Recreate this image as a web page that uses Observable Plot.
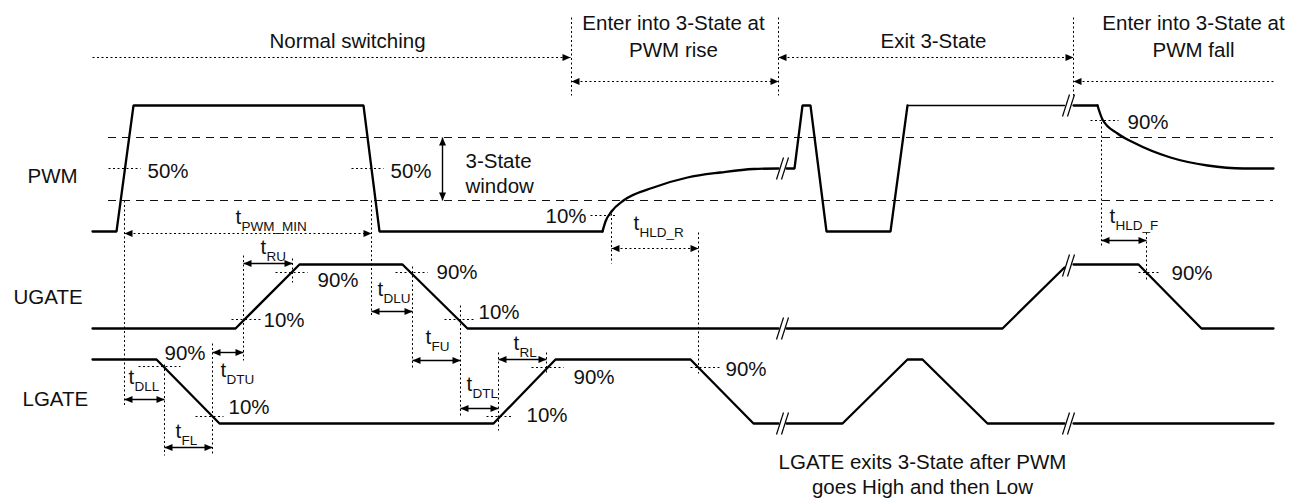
<!DOCTYPE html>
<html><head><meta charset="utf-8">
<script src="https://cdn.jsdelivr.net/npm/d3@7"></script>
<script src="https://cdn.jsdelivr.net/npm/@observablehq/plot@0.6"></script>
<style>body{margin:0;background:#fff}</style>
</head><body><div id="chart"></div>
<script>
// ---- waveform vertices (time, level) ----
const pwmA = [[92,231],[116,231],[133,105],[363,105],[379,231],[602,231]];
const pwmRiseCurve = [[602,231],[605,221],[611,211],[623,200],[653,187],[687,177],[720,172],[753,168.5],[778,168]];
const pwmB = [[786,168],[794,168],[802,105],[810,105],[826,231],[890,231],[907,105]];
const pwmHold = [[907,105],[1064,105]];
const pwmC = [[1073,105],[1097,105]];
const pwmFallCurve = [[1097,105],[1102,119],[1117,133],[1133,142],[1170,157],[1207,165],[1243,168],[1273,168]];
const ugA = [[92,328],[235,328],[299,264],[402,264],[467,328],[778,328]];
const ugB = [[786,328],[1002,328],[1064,267]];
const ugC = [[1073,264],[1138,264],[1201,328],[1273,328]];
const lgA = [[92,359],[156,359],[219,423],[493,423],[555,359],[690,359],[753,423],[778,423]];
const lgB = [[786,423],[842,423],[907,359],[922,359],[987,423],[1064,423]];
const lgC = [[1073,423],[1273,423]];

// 3-state window thresholds
const thresholds = [137, 200];
const thresholdSpan = [108, 1273];

// time-axis breaks
const breaks = [[782,168],[1068,105],[782,328],[1068,265],[782,423],[1068,423]];

// dotted guide lines
const guides = [
  [124,200,124,407],[371,200,371,317],[164,364,164,455],[212,343,212,455],
  [243,255,243,360],[292,258,292,282],[412,266,412,367],[460,305,460,417],
  [498,352,498,430],[546,352,546,372],[611,213,611,263],[698,232,698,373],
  [1101,117,1101,246],[1146,232,1146,280],
  [571,17,571,95],[778,17,778,95],[1073,17,1073,95],
  [108,168,140,168],[351,168,383,168],
  [231,319,261,319],[275,272,307,272],[395,272,427,272],[444,319,473,319],
  [138,366,180,366],[195,416,223,416],[486,416,513,416],[531,367,563,367],[690,367,720,367],
  [590,215,617,215],[1090,120,1118,120],[1138,272,1160,272]
];
// dotted arrows: x1,y1,x2,y2,heads
const dottedArrows = [
  [92,57,570,57,"end"],[778,57,1073,57,"both"],[571,81,778,81,"both"],
  [1073,81,1273,81,"start"],[124,233,371,233,"both"],[611,248,698,248,"both"]
];
// solid timing arrows
const solidArrows = [
  [243,263,292,263,"both"],[371,311,412,311,"both"],[412,360,460,360,"both"],
  [460,408,498,408,"both"],[498,359,546,359,"both"],[124,399,164,399,"both"],
  [164,447,212,447,"both"],[212,352,243,352,"both"],[1101,240,1146,240,"both"],
  [442,137,442,200,"both"]
];

// centred labels
const titles = [
  ["Normal switching",347,47],
  ["Enter into 3-State at",673,29],["PWM rise",673,56],
  ["Exit 3-State",933,47],
  ["Enter into 3-State at",1193,29],["PWM fall",1193,56],
  ["LGATE exits 3-State after PWM",922,468],["goes High and then Low",922,493]
];
// left-aligned labels
const labels = [
  ["PWM",27,182],["UGATE",13,303],["LGATE",22,405],
  ["50%",147,177],["50%",390,177],
  ["3-State",465,167],["window",465,192],
  ["10%",545,222],["90%",1127,128],
  ["90%",317,286],["90%",436,278],["10%",263,326],["10%",478,318],
  ["90%",164,359],["10%",228,413],["10%",526,421],["90%",573,383],["90%",725,375],
  ["90%",1171,279]
];
// timing symbols: subscript, x, baseline of "t"
const timings = [
  ["PWM_MIN",235,223],["RU",260,253],["DLU",377,295],["FU",425,343],
  ["DTL",466,390],["RL",513,349],["HLD_R",633,229],["HLD_F",1109,222],
  ["DLL",128,383],["FL",175,437],["DTU",220,376]
];

// ---- build ----
const P = d => d[0], Q = d => d[1];
const lineOpts = {x: P, y: Q, stroke: "#000", strokeWidth: 2.3, strokeLinejoin: "miter"};

function headSymbol(dx, dy) {
  const L = 8, W = 3.5, px = -dy, py = dx;
  return {draw(ctx) {
    ctx.moveTo(0, 0);
    ctx.lineTo(-dx*L + px*W, -dy*L + py*W);
    ctx.lineTo(-dx*L - px*W, -dy*L - py*W);
    ctx.closePath();
  }};
}
const heads = [];
for (const a of [...dottedArrows, ...solidArrows]) {
  const [x1,y1,x2,y2,h] = a;
  const len = Math.hypot(x2-x1, y2-y1), ux = (x2-x1)/len, uy = (y2-y1)/len;
  if (h === "end" || h === "both") heads.push({x: x2, y: y2, dx: ux, dy: uy});
  if (h === "start" || h === "both") heads.push({x: x1, y: y1, dx: -ux, dy: -uy});
}
const dirKey = h => `${Math.round(h.dx)},${Math.round(h.dy)}`;
const headGroups = d3.group(heads, dirKey);
const headMarks = [...headGroups].map(([k, arr]) => {
  const [dx, dy] = k.split(",").map(Number);
  return Plot.dot(arr, {x: "x", y: "y", r: 4, symbol: headSymbol(dx, dy), fill: "#000", stroke: "none"});
});

const breakLines = [];
for (const [cx, cy] of breaks) for (const d of [-2.5, 2.5])
  breakLines.push([cx + d - 3.5, cy + 11, cx + d + 3.5, cy - 11]);

const seg = {x1: d => d[0], y1: d => d[1], x2: d => d[2], y2: d => d[3]};
const font = "'Liberation Sans', Arial, Helvetica, sans-serif";
const txt = {x: d => d[1], y: d => d[2], text: d => d[0], lineAnchor: "bottom", fontSize: 20.5, fill: "#111"};

const chart = Plot.plot({
  width: 1299, height: 500,
  margin: 0,
  x: {domain: [0, 1299], range: [0, 1299], axis: null},
  y: {domain: [0, 500], range: [0, 500], axis: null},
  style: {fontFamily: font, background: "#fff", color: "#000"},
  marks: [
    Plot.ruleY(thresholds, {y: d => d, x1: thresholdSpan[0], x2: thresholdSpan[1], stroke: "#111", strokeWidth: 1.2, strokeDasharray: "8,6"}),
    Plot.link(guides, {...seg, stroke: "#000", strokeWidth: 1, strokeDasharray: "2,2.5"}),
    Plot.link(dottedArrows, {...seg, stroke: "#000", strokeWidth: 1.1, strokeDasharray: "2,2.5"}),
    Plot.link(solidArrows, {...seg, stroke: "#000", strokeWidth: 1.4}),
    ...headMarks,
    Plot.line(pwmA, lineOpts),
    Plot.line(pwmRiseCurve, {...lineOpts, curve: "monotone-x"}),
    Plot.line(pwmB, lineOpts),
    Plot.line(pwmHold, {...lineOpts, strokeWidth: 1.3}),
    Plot.line(pwmC, lineOpts),
    Plot.line(pwmFallCurve, {...lineOpts, curve: "monotone-x"}),
    Plot.line(ugA, lineOpts), Plot.line(ugB, lineOpts), Plot.line(ugC, lineOpts),
    Plot.line(lgA, lineOpts), Plot.line(lgB, lineOpts), Plot.line(lgC, lineOpts),
    Plot.link(breakLines, {...seg, stroke: "#000", strokeWidth: 1.2}),
    Plot.text(titles, {...txt, textAnchor: "middle"}),
    Plot.text(labels, {...txt, textAnchor: "start"}),
    Plot.text(timings, {x: d => d[1], y: d => d[2], text: () => "t", textAnchor: "start", lineAnchor: "bottom", fontSize: 20.5, fill: "#111"}),
    Plot.text(timings, {x: d => d[1] + 6, y: d => d[2] + 7, text: d => d[0], textAnchor: "start", lineAnchor: "bottom", fontSize: 13.5, fill: "#111"})
  ]
});
document.getElementById("chart").appendChild(chart);
</script></body></html>
